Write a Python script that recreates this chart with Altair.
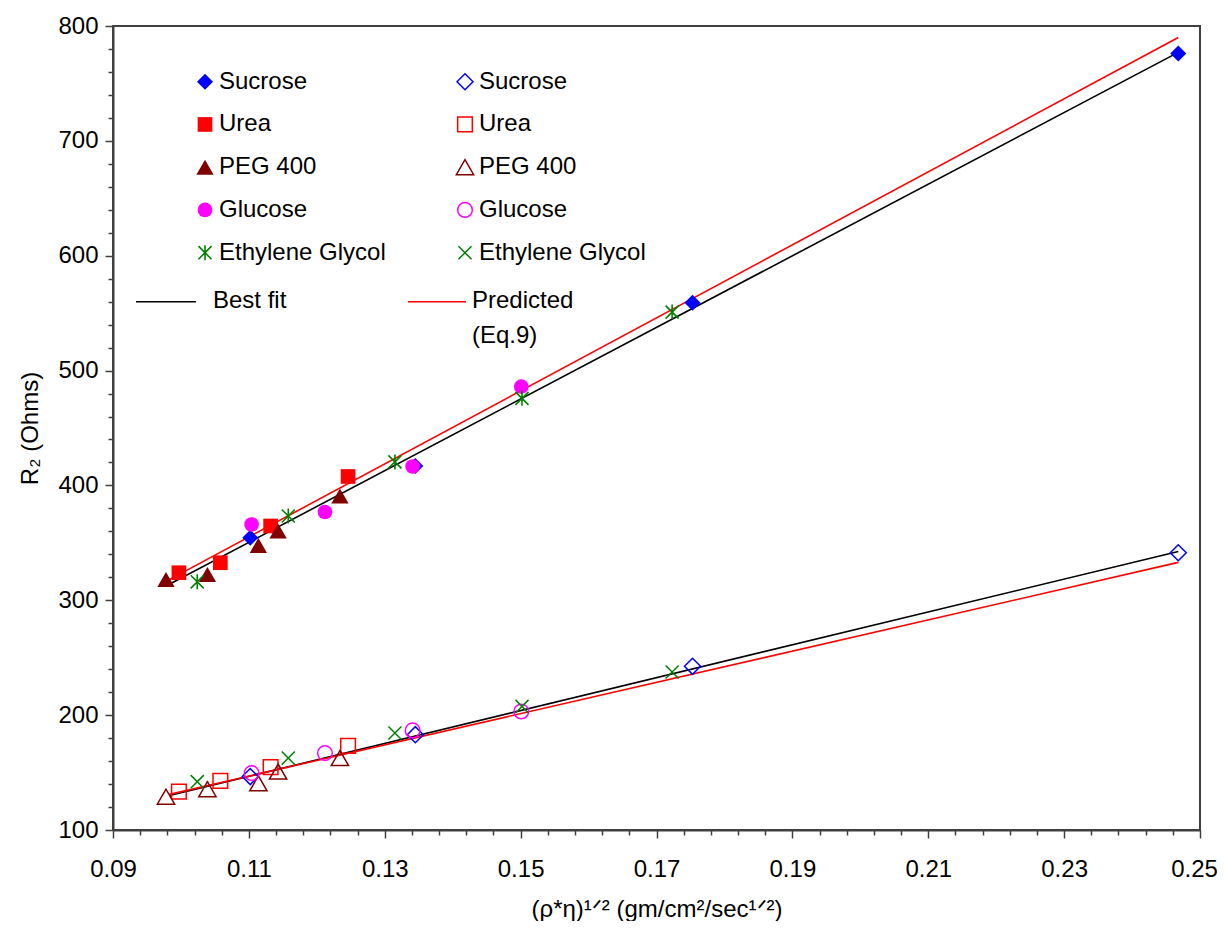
import altair as alt
import pandas as pd

# ---------------- data ----------------
solutes = ["Sucrose", "Urea", "PEG 400", "Glucose", "Ethylene Glycol"]

sucrose_x = [0.1102, 0.1345, 0.1753, 0.2468]
sucrose_filled = [354.5, 417.0, 559.0, 776.0]
sucrose_open = [146.5, 183.0, 242.5, 341.4]

urea_x = [0.0997, 0.1058, 0.1132, 0.1246]
urea_filled = [324.0, 332.7, 364.7, 407.8]
urea_open = [133.4, 142.8, 154.7, 173.3]

peg_x = [0.0978, 0.1039, 0.1114, 0.1143, 0.1234]
peg_filled = [318.2, 322.5, 347.8, 360.3, 390.8]
peg_open = [129.0, 135.5, 140.7, 150.9, 162.6]

glucose_x = [0.1104, 0.1212, 0.1341, 0.1501]
glucose_filled = [366.0, 376.9, 416.5, 486.0]
glucose_open = [149.5, 166.9, 186.7, 203.2]

eg_x = [0.1024, 0.1158, 0.1315, 0.1502, 0.1723]
eg_filled = [316.1, 373.4, 420.5, 475.8, 550.9]
eg_open = [142.1, 162.6, 184.4, 207.6, 237.6]

fit_x = [0.0983, 0.2468]
upper_best = [314.0, 777.0]
upper_pred = [318.0, 790.0]
lower_best = [130.0, 342.5]
lower_pred = [131.0, 333.0]

fit_labels = ["Best fit", "Predicted\n(Eq.9)"]

# ---------------- tables ----------------
series = {
    "Sucrose": (sucrose_x, sucrose_filled, sucrose_open),
    "Urea": (urea_x, urea_filled, urea_open),
    "PEG 400": (peg_x, peg_filled, peg_open),
    "Glucose": (glucose_x, glucose_filled, glucose_open),
    "Ethylene Glycol": (eg_x, eg_filled, eg_open),
}
rows = []
for s, (xs_, fy, oy) in series.items():
    for xv, a, b in zip(xs_, fy, oy):
        rows.append({"solute": s, "x": xv, "r": a, "grp": "filled"})
        rows.append({"solute": s, "x": xv, "r": b, "grp": "open"})
pts = pd.DataFrame(rows)

lrows = []
for name, grp, yv_list in [("Best fit", "upper", upper_best), ("Predicted", "upper", upper_pred),
                           ("Best fit", "lower", lower_best), ("Predicted", "lower", lower_pred)]:
    for xv, yv in zip(fit_x, yv_list):
        lrows.append({"fit": name, "grp": grp, "x": xv, "r": yv})
lines = pd.DataFrame(lrows)

legend_df = pd.DataFrame({"solute": solutes})
fit_df = pd.DataFrame({"label": fit_labels})

# ---------------- styles ----------------
FONT = "Liberation Sans"
colors = {"Sucrose": "#0000FF", "Urea": "#FF0000", "PEG 400": "#800000",
          "Glucose": "#FF00FF", "Ethylene Glycol": "#008000"}
ASTER = "M-1,-1L1,1M-1,1L1,-1M0,-1.15L0,1.15"
XMARK = "M-1,-1L1,1M-1,1L1,-1"
filled_style = {
    "Sucrose": dict(shape="diamond", size=256, filled=True),
    "Urea": dict(shape="square", size=215, filled=True),
    "PEG 400": dict(shape="triangle-up", size=300, filled=True),
    "Glucose": dict(shape="circle", size=215, filled=True),
    "Ethylene Glycol": dict(shape=ASTER, size=170, filled=False, strokeWidth=1.6),
}
open_style = {
    "Sucrose": dict(shape="diamond", size=256, filled=False, strokeWidth=1.5),
    "Urea": dict(shape="square", size=215, filled=False, strokeWidth=1.5),
    "PEG 400": dict(shape="triangle-up", size=300, filled=False, strokeWidth=1.5),
    "Glucose": dict(shape="circle", size=215, filled=False, strokeWidth=1.5),
    "Ethylene Glycol": dict(shape=XMARK, size=170, filled=False, strokeWidth=1.5),
}

x_ticks = [round(0.09 + 0.004 * i, 4) for i in range(41)]
y_ticks = [100 + 20 * i for i in range(36)]
x_major = "abs(datum.value*50 - 4.5 - round(datum.value*50 - 4.5)) < 0.01"
y_major = "datum.value % 100 == 0"

xs = alt.Scale(domain=[0.09, 0.25], nice=False, zero=False)
ys = alt.Scale(domain=[100, 800], nice=False, zero=False)

axis_common = dict(
    grid=False, labelOverlap=False, labelFlush=False,
    domainColor="#404040", domainWidth=2, tickColor="#404040", tickWidth=1.5,
    labelFont=FONT, labelFontSize=24, labelColor="black",
    titleFont=FONT, titleFontSize=24, titleColor="black", titleFontWeight="normal",
)
x_axis = alt.Axis(
    values=x_ticks,
    labelExpr=f"({x_major}) ? format(datum.value, '.2f') : ''",
    tickSize={"condition": {"test": x_major, "value": 8}, "value": 5},
    labelOffset={"condition": {"test": "datum.value > 0.249", "value": -6}, "value": 0},
    labelPadding=19, title="(ρ*η)¹ᐟ² (gm/cm²/sec¹ᐟ²)", titlePadding=16,
    **axis_common,
)
y_axis = alt.Axis(
    values=y_ticks,
    labelExpr=f"({y_major}) ? format(datum.value, 'd') : ''",
    tickSize={"condition": {"test": y_major, "value": 8}, "value": 5},
    labelPadding=7, title="R₂ (Ohms)", titlePadding=15,
    **axis_common,
)

X = alt.X("x:Q", scale=xs, axis=x_axis)
Y = alt.Y("r:Q", scale=ys, axis=y_axis)

layers = []
# fit lines
for name, col in [("Best fit", "black"), ("Predicted", "#FF0000")]:
    layers.append(
        alt.Chart(lines).transform_filter(alt.datum.fit == name)
        .mark_line(color=col, strokeWidth=1.6)
        .encode(x=X, y=Y, detail="grp:N")
    )
# data points
for s in solutes:
    for grp, style in [("filled", filled_style[s]), ("open", open_style[s])]:
        layers.append(
            alt.Chart(pts).transform_filter((alt.datum.solute == s) & (alt.datum.grp == grp))
            .mark_point(color=colors[s], opacity=1, **style)
            .encode(x=X, y=Y)
        )

# legend (pixel positions relative to the plot area)
row0, drow = 55.7, 42.75
col1_sym, col1_txt = 92, 106
col2_sym, col2_txt = 352, 366
for i, s in enumerate(solutes):
    yy = row0 + drow * i
    one = alt.Chart(legend_df).transform_filter(alt.datum.solute == s)
    layers.append(one.mark_point(color=colors[s], opacity=1, **filled_style[s])
                  .encode(x=alt.value(col1_sym), y=alt.value(yy)))
    layers.append(one.mark_point(color=colors[s], opacity=1, **open_style[s])
                  .encode(x=alt.value(col2_sym), y=alt.value(yy)))
    for tx in (col1_txt, col2_txt):
        layers.append(one.mark_text(align="left", baseline="middle", font=FONT,
                                    fontSize=24, color="black")
                      .encode(x=alt.value(tx), y=alt.value(yy), text="solute:N"))

fit_row = 275.7
for lab, col, x0, x1, tx in [(fit_labels[0], "black", 23, 83, 100),
                            (fit_labels[1], "#FF0000", 295, 353, 359)]:
    one = alt.Chart(fit_df).transform_filter(alt.datum.label == lab)
    layers.append(one.mark_rule(color=col, strokeWidth=1.6)
                  .encode(x=alt.value(x0), x2=alt.value(x1), y=alt.value(fit_row)))
    layers.append(one.mark_text(align="left", baseline="top", font=FONT, fontSize=24,
                                color="black", lineBreak="\n", lineHeight=35)
                  .encode(x=alt.value(tx), y=alt.value(fit_row - 13), text="label:N"))

chart = (
    alt.layer(*layers)
    .properties(
        width=1087, height=804,
        padding={"left": 105, "top": 18, "right": 17, "bottom": 91},
        autosize=alt.AutoSizeParams(type="none"),
        background="white",
    )
    .configure_view(stroke="#404040", strokeWidth=2)
)

chart.save("out.html", embed_options={"renderer": "svg", "actions": False})
